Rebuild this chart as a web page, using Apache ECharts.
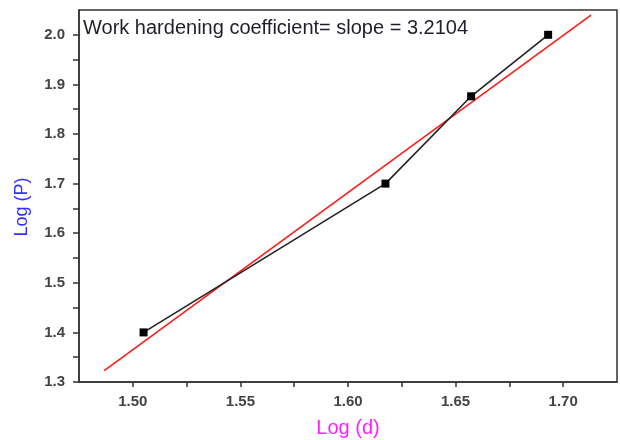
<!DOCTYPE html>
<html>
<head>
<meta charset="utf-8">
<script src="https://cdn.jsdelivr.net/npm/echarts@6/dist/echarts.min.js"></script>
<style>
  html, body { margin: 0; padding: 0; background: #fff; }
  #chart { width: 620px; height: 440px; }
</style>
</head>
<body>
<div id="chart"></div>
<script>
// Measured points: log of indentation diameter vs log of load
const logD = [1.505, 1.6174, 1.6572, 1.693];
const logP = [1.40, 1.70, 1.876, 2.00];

// Linear fit endpoints (Log d, Log P)
const fitD = [1.4867, 1.7129];
const fitP = [1.3228, 2.0398];

const slopeText = 'Work hardening coefficient= slope = 3.2104';
const xTitle = 'Log (d)';
const yTitle = 'Log (P)';

const FONT = '"Liberation Sans", Arial, sans-serif';

const measured = logD.map((d, i) => [d, logP[i]]);
const fitLine = fitD.map((d, i) => [d, fitP[i]]);

const near = (v, step) => Math.abs(v / step - Math.round(v / step)) < 1e-6;

const chart = echarts.init(document.getElementById('chart'), null, { renderer: 'canvas' });
chart.setOption({
  animation: false,
  backgroundColor: '#ffffff',
  grid: {
    left: 79, right: 3, top: 10, bottom: 58,
    outerBoundsMode: 'none',
    containLabel: false,
    show: true, borderColor: '#333', borderWidth: 1.5, backgroundColor: 'transparent'
  },
  xAxis: {
    type: 'value',
    min: 1.475, max: 1.725, interval: 0.025,
    name: xTitle, nameLocation: 'middle', nameGap: 36,
    nameTextStyle: { color: '#ff22ff', fontSize: 20, fontFamily: FONT },
    axisLine: { show: true, onZero: false, lineStyle: { color: '#333', width: 1.5 } },
    axisTick: { show: true, inside: false, length: 5, lineStyle: { color: '#333', width: 1.5 } },
    splitLine: { show: false },
    axisLabel: {
      margin: 12, color: '#444', fontSize: 15, fontWeight: 'bold', fontFamily: FONT,
      showMinLabel: false, showMaxLabel: false,
      formatter: v => (near(v, 0.05) && v > 1.49 && v < 1.71) ? v.toFixed(2) : ''
    }
  },
  yAxis: {
    type: 'value',
    min: 1.3, max: 2.05, interval: 0.05,
    name: yTitle, nameLocation: 'middle', nameGap: 48, nameRotate: 90,
    nameTextStyle: { color: '#3030ff', fontSize: 18, fontFamily: FONT, padding: [0, 22, 0, 0] },
    axisLine: { show: true, onZero: false, lineStyle: { color: '#333', width: 1.5 } },
    axisTick: { show: true, inside: false, length: 6, lineStyle: { color: '#333', width: 1.5 } },
    splitLine: { show: false },
    axisLabel: {
      margin: 14, color: '#444', fontSize: 15, fontWeight: 'bold', fontFamily: FONT,
      showMaxLabel: false,
      formatter: v => (near(v, 0.1) && v < 2.01) ? v.toFixed(1) : ''
    }
  },
  graphic: [{
    type: 'text',
    left: 83, top: 18,
    style: { text: slopeText, fill: '#1e1e2e', font: '20px ' + FONT }
  }],
  series: [
    {
      name: 'fit',
      type: 'line',
      data: fitLine,
      showSymbol: false,
      symbol: 'none',
      lineStyle: { color: '#ff1a1a', width: 1.6 },
      z: 2
    },
    {
      name: 'data',
      type: 'line',
      data: measured,
      symbol: 'rect',
      symbolSize: 8,
      itemStyle: { color: '#000' },
      lineStyle: { color: '#222', width: 1.6 },
      z: 3
    }
  ]
});
</script>
</body>
</html>
